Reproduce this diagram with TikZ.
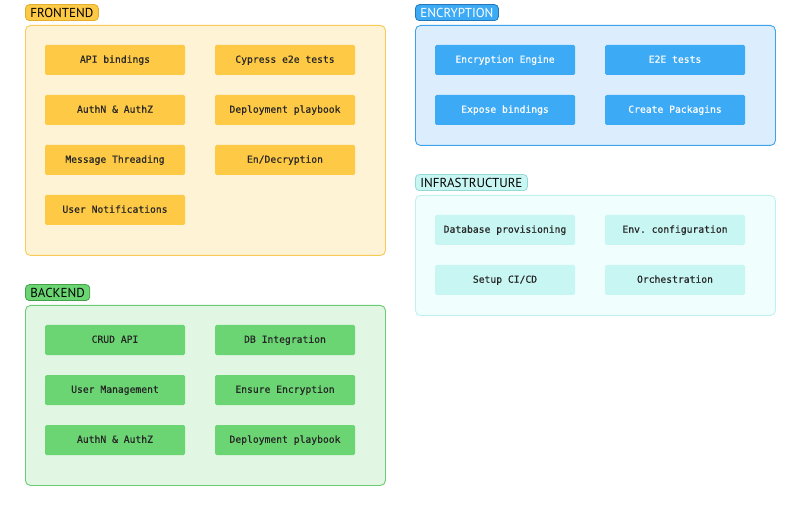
\documentclass[tikz,border=0pt]{standalone}
\usepackage{fontspec}
\setmainfont{PT Sans}
\setmonofont[FakeBold=0.4]{DejaVu Sans Mono}
\usetikzlibrary{positioning}
\definecolor{feFill}{HTML}{FFF3D6}
\definecolor{feLine}{HTML}{F8CB58}
\definecolor{feTask}{HTML}{FEC944}
\definecolor{feTag}{HTML}{E0AE30}
\definecolor{enFill}{HTML}{DCEEFD}
\definecolor{enLine}{HTML}{3DA2EB}
\definecolor{enTask}{HTML}{3DAAF5}
\definecolor{enTag}{HTML}{2478B8}
\definecolor{inFill}{HTML}{F0FEFE}
\definecolor{inLine}{HTML}{C2F0EE}
\definecolor{inTask}{HTML}{C8F6F3}
\definecolor{inTag}{HTML}{94D9D5}
\definecolor{beFill}{HTML}{E1F7E3}
\definecolor{beLine}{HTML}{6BCB73}
\definecolor{beTask}{HTML}{6AD572}
\definecolor{beTag}{HTML}{45A04C}
\definecolor{taskText}{HTML}{262626}
\tikzstyle{group} = [rectangle, draw, rounded corners=5pt, line width=0.9pt, anchor=north west]
\tikzstyle{tag} = [rectangle, draw, rounded corners=4pt, line width=0.8pt, anchor=south west, inner xsep=5pt, inner ysep=0pt, minimum height=16pt, text height=9pt, text depth=0pt, font=\fontsize{13}{14}\selectfont]
\tikzstyle{task} = [rectangle, rounded corners=1.5pt, minimum width=140pt, minimum height=30pt, text height=7.5pt, text depth=2pt, text=taskText, font=\ttfamily\fontsize{9.7}{11}\selectfont]

\begin{document}
\begin{tikzpicture}[x=1pt, y=-1pt, node distance=50pt]
  \useasboundingbox (0,0) rectangle (800,510);

  % frontend
  \node (frontend) [group, fill=feFill, draw=feLine, minimum width=360pt, minimum height=230pt] at (25,25) {};
  \node (frontendtag) [tag, fill=feTask, draw=feTag] at (25,21) {FRONTEND};

  \node (apibind) [task, fill=feTask] at (115,60) {API bindings};
  \node (feauth) [task, fill=feTask, below of=apibind] {AuthN \& AuthZ};
  \node (threading) [task, fill=feTask, below of=feauth] {Message Threading};
  \node (notify) [task, fill=feTask, below of=threading] {User Notifications};
  \node (cypress) [task, fill=feTask] at (285,60) {Cypress e2e tests};
  \node (fedeploy) [task, fill=feTask, below of=cypress] {Deployment playbook};
  \node (endecrypt) [task, fill=feTask, below of=fedeploy] {En/Decryption};

  % encryption
  \node (encryption) [group, fill=enFill, draw=enLine, minimum width=360pt, minimum height=120pt] at (415,25) {};
  \node (encryptiontag) [tag, fill=enTask, draw=enTag, text=white] at (415,21) {ENCRYPTION};

  \node (engine) [task, fill=enTask, text=white] at (505,60) {Encryption Engine};
  \node (expose) [task, fill=enTask, text=white, below of=engine] {Expose bindings};
  \node (etoe) [task, fill=enTask, text=white] at (675,60) {E2E tests};
  \node (packaging) [task, fill=enTask, text=white, below of=etoe] {Create Packagins};

  % infrastructure
  \node (infra) [group, fill=inFill, draw=inLine, minimum width=360pt, minimum height=120pt] at (415,195) {};
  \node (infratag) [tag, fill=inTask, draw=inTag] at (415,191) {INFRASTRUCTURE};

  \node (dbprov) [task, fill=inTask] at (505,230) {Database provisioning};
  \node (cicd) [task, fill=inTask, below of=dbprov] {Setup CI/CD};
  \node (envconf) [task, fill=inTask] at (675,230) {Env. configuration};
  \node (orchestr) [task, fill=inTask, below of=envconf] {Orchestration};

  % backend
  \node (backend) [group, fill=beFill, draw=beLine, minimum width=360pt, minimum height=180pt] at (25,305) {};
  \node (backendtag) [tag, fill=beTask, draw=beTag] at (25,301) {BACKEND};

  \node (crud) [task, fill=beTask] at (115,340) {CRUD API};
  \node (usermgmt) [task, fill=beTask, below of=crud] {User Management};
  \node (beauth) [task, fill=beTask, below of=usermgmt] {AuthN \& AuthZ};
  \node (dbinteg) [task, fill=beTask] at (285,340) {DB Integration};
  \node (ensure) [task, fill=beTask, below of=dbinteg] {Ensure Encryption};
  \node (bedeploy) [task, fill=beTask, below of=ensure] {Deployment playbook};

\end{tikzpicture}
\end{document}
